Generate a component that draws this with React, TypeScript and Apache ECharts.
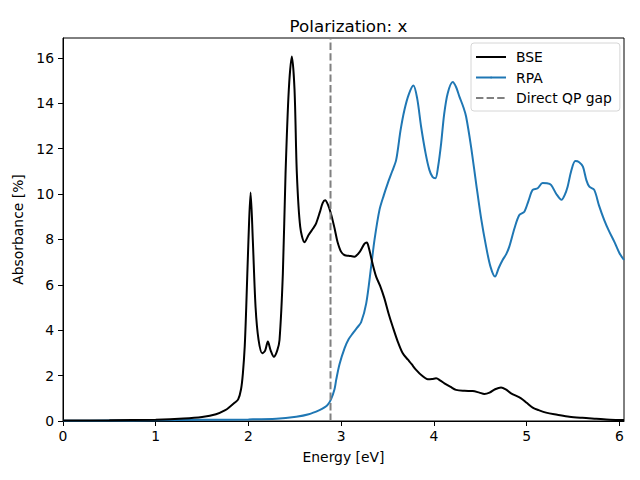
import React, { useEffect, useRef } from "react";
import * as echarts from "echarts";

const bseEnergy = [0, 0.5, 1.0, 1.3, 1.5, 1.65, 1.75, 1.8, 1.85, 1.889, 1.92, 1.94, 1.96, 1.976, 2.0, 2.023, 2.047, 2.077, 2.109, 2.149, 2.18, 2.209, 2.24, 2.274, 2.31, 2.335, 2.371, 2.4, 2.435, 2.468, 2.497, 2.522, 2.558, 2.605, 2.65, 2.7, 2.73, 2.77, 2.8, 2.827, 2.86, 2.892, 2.928, 2.96, 3.0, 3.04, 3.08, 3.143, 3.2, 3.25, 3.276, 3.3, 3.34, 3.377, 3.42, 3.466, 3.51, 3.556, 3.61, 3.664, 3.72, 3.76, 3.808, 3.87, 3.933, 3.98, 4.024, 4.07, 4.113, 4.18, 4.239, 4.33, 4.418, 4.49, 4.544, 4.6, 4.66, 4.724, 4.78, 4.832, 4.94, 5.0, 5.065, 5.13, 5.21, 5.33, 5.46, 5.6, 5.75, 5.9, 6.05];
const bseAbs = [0.02, 0.03, 0.06, 0.11, 0.18, 0.3, 0.48, 0.63, 0.8, 0.95, 1.4, 2.1, 3.3, 5.0, 7.97, 10.06, 7.97, 5.0, 3.57, 2.98, 3.1, 3.5, 3.1, 2.83, 3.1, 3.57, 6.5, 10.9, 14.58, 16.06, 14.58, 10.9, 8.56, 7.87, 8.2, 8.5, 8.71, 9.2, 9.6, 9.72, 9.5, 9.1, 8.5, 7.9, 7.45, 7.3, 7.28, 7.24, 7.45, 7.8, 7.86, 7.6, 6.9, 6.36, 5.95, 5.4, 4.75, 4.15, 3.5, 2.98, 2.7, 2.5, 2.25, 2.0, 1.84, 1.85, 1.88, 1.78, 1.66, 1.5, 1.37, 1.33, 1.32, 1.25, 1.19, 1.25, 1.4, 1.48, 1.38, 1.22, 1.0, 0.8, 0.59, 0.48, 0.37, 0.28, 0.19, 0.14, 0.1, 0.06, 0.04];

const rpaEnergy = [0, 0.5, 1.0, 1.5, 2.0, 2.3, 2.515, 2.65, 2.766, 2.82, 2.856, 2.89, 2.928, 2.946, 2.982, 3.036, 3.08, 3.125, 3.17, 3.215, 3.27, 3.323, 3.36, 3.413, 3.46, 3.502, 3.55, 3.593, 3.64, 3.682, 3.73, 3.779, 3.82, 3.862, 3.91, 3.951, 3.985, 4.016, 4.045, 4.078, 4.11, 4.149, 4.203, 4.24, 4.275, 4.32, 4.347, 4.4, 4.455, 4.51, 4.563, 4.61, 4.659, 4.7, 4.741, 4.78, 4.813, 4.87, 4.921, 4.975, 5.02, 5.065, 5.119, 5.172, 5.22, 5.263, 5.32, 5.377, 5.41, 5.442, 5.48, 5.525, 5.567, 5.607, 5.645, 5.676, 5.729, 5.78, 5.837, 5.89, 5.945, 6.0, 6.05];
const rpaAbs = [0.01, 0.02, 0.03, 0.05, 0.07, 0.1, 0.19, 0.3, 0.48, 0.6, 0.72, 0.95, 1.4, 1.81, 2.5, 3.2, 3.6, 3.86, 4.1, 4.35, 5.18, 6.8, 8.0, 9.3, 9.95, 10.47, 11.0, 11.5, 12.8, 13.7, 14.4, 14.78, 14.2, 12.96, 11.8, 11.06, 10.75, 10.69, 11.2, 12.23, 13.5, 14.44, 14.93, 14.7, 14.29, 13.8, 13.41, 12.1, 10.47, 8.9, 7.68, 6.8, 6.36, 6.75, 7.09, 7.35, 7.68, 8.5, 9.07, 9.22, 9.7, 10.18, 10.25, 10.48, 10.47, 10.4, 10.0, 9.74, 9.95, 10.32, 11.0, 11.45, 11.4, 11.2, 10.6, 10.32, 10.18, 9.5, 8.85, 8.35, 7.9, 7.4, 7.09];

const gapEnergy = 2.885;
const xTicks = [0, 1, 2, 3, 4, 5, 6];
const yTicks = [0, 2, 4, 6, 8, 10, 12, 14, 16];
const xMax = 6.05;
const yMax = 16.87;

const FONT = "DejaVu Sans";

export default function App() {
  const ref = useRef<HTMLDivElement>(null);
  useEffect(() => {
    if (!ref.current) return;
    const chart = echarts.init(ref.current, null, { renderer: "svg" });
    const axisCommon = {
      axisLine: { show: true, lineStyle: { color: "#000", width: 1 } },
      axisTick: { show: true, length: 5, inside: false, lineStyle: { color: "#000", width: 1 } },
      splitLine: { show: false },
      nameTextStyle: { fontFamily: FONT, fontSize: 13.9, color: "#000" },
    };
    chart.setOption({
      animation: false,
      backgroundColor: "#fff",
      title: {
        text: "Polarization: x",
        left: 343.5,
        top: 12,
        textAlign: "center",
        textStyle: { fontFamily: FONT, fontSize: 16.7, fontWeight: "normal", color: "#000" },
      },
      grid: { left: 63, right: 16, top: 38, bottom: 59, show: true, borderColor: "#000", borderWidth: 1, backgroundColor: "transparent" },
      legend: {
        left: 471,
        top: 43,
        orient: "vertical",
        padding: [7, 8, 6, 4],
        itemWidth: 30,
        itemHeight: 2,
        itemGap: 6.5,
        borderColor: "#d6d6d6",
        borderWidth: 1,
        borderRadius: 3,
        backgroundColor: "rgba(255,255,255,0.8)",
        textStyle: { fontFamily: FONT, fontSize: 13.9, color: "#000", padding: [0, 0, 0, 5] },
        data: ["BSE", "RPA", "Direct QP gap"],
      },
      xAxis: {
        type: "value",
        min: 0,
        max: xMax,
        name: "Energy [eV]",
        nameLocation: "middle",
        nameGap: 29,
        ...axisCommon,
        axisTick: { ...axisCommon.axisTick, customValues: xTicks },
        axisLabel: { customValues: xTicks, fontFamily: FONT, fontSize: 13.9, color: "#000", margin: 8 },
      },
      yAxis: {
        type: "value",
        min: 0,
        max: yMax,
        name: "Absorbance [%]",
        nameLocation: "middle",
        nameGap: 37,
        ...axisCommon,
        axisTick: { ...axisCommon.axisTick, customValues: yTicks },
        axisLabel: { customValues: yTicks, fontFamily: FONT, fontSize: 13.9, color: "#000", margin: 9 },
      },
      series: [
        {
          name: "BSE",
          type: "line",
          data: bseEnergy.map((e, i) => [e, bseAbs[i]]),
          showSymbol: false,
          symbol: "none",
          smooth: 0.3,
          lineStyle: { color: "#000", width: 2 },
          itemStyle: { color: "#000" },
          z: 3,
        },
        {
          name: "RPA",
          type: "line",
          data: rpaEnergy.map((e, i) => [e, rpaAbs[i]]),
          showSymbol: false,
          symbol: "none",
          smooth: 0.3,
          lineStyle: { color: "#1f77b4", width: 2 },
          itemStyle: { color: "#1f77b4" },
          z: 2,
        },
        {
          name: "Direct QP gap",
          type: "line",
          data: [[gapEnergy, 0], [gapEnergy, yMax]],
          showSymbol: false,
          symbol: "none",
          lineStyle: { color: "#808080", width: 2, type: [7.4, 3.2] },
          itemStyle: { color: "#808080" },
          z: 4,
        },
      ],
    });
    return () => chart.dispose();
  }, []);
  return (
    <div
      ref={ref}
      style={{ position: "fixed", left: 0, top: 0, width: 640, height: 480 }}
    />
  );
}
